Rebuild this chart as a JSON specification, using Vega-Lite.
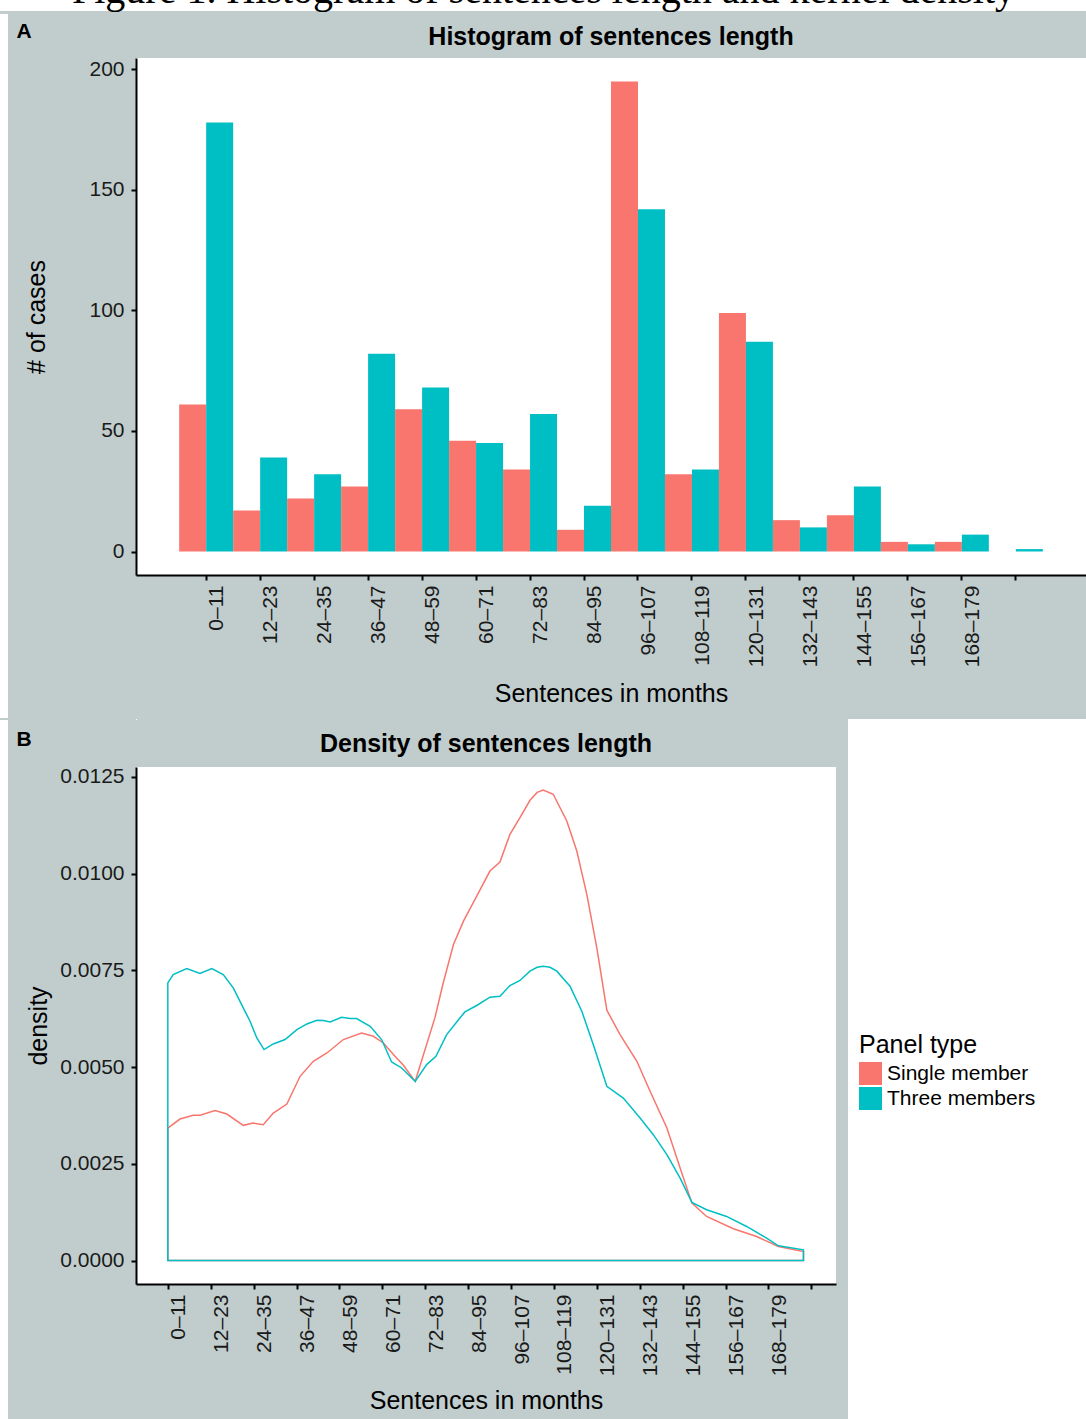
{
  "$schema": "https://vega.github.io/schema/vega-lite/v6.json",
  "background": "#c1cdcd",
  "padding": {"left": 0, "top": -30, "right": 0, "bottom": 0},
  "spacing": 0,
  "datasets": {
    "counts": [
      {"bin": "0–11", "panel": "Single member", "count": 61},
      {"bin": "0–11", "panel": "Three members", "count": 178},
      {"bin": "12–23", "panel": "Single member", "count": 17},
      {"bin": "12–23", "panel": "Three members", "count": 39},
      {"bin": "24–35", "panel": "Single member", "count": 22},
      {"bin": "24–35", "panel": "Three members", "count": 32},
      {"bin": "36–47", "panel": "Single member", "count": 27},
      {"bin": "36–47", "panel": "Three members", "count": 82},
      {"bin": "48–59", "panel": "Single member", "count": 59},
      {"bin": "48–59", "panel": "Three members", "count": 68},
      {"bin": "60–71", "panel": "Single member", "count": 46},
      {"bin": "60–71", "panel": "Three members", "count": 45},
      {"bin": "72–83", "panel": "Single member", "count": 34},
      {"bin": "72–83", "panel": "Three members", "count": 57},
      {"bin": "84–95", "panel": "Single member", "count": 9},
      {"bin": "84–95", "panel": "Three members", "count": 19},
      {"bin": "96–107", "panel": "Single member", "count": 195},
      {"bin": "96–107", "panel": "Three members", "count": 142},
      {"bin": "108–119", "panel": "Single member", "count": 32},
      {"bin": "108–119", "panel": "Three members", "count": 34},
      {"bin": "120–131", "panel": "Single member", "count": 99},
      {"bin": "120–131", "panel": "Three members", "count": 87},
      {"bin": "132–143", "panel": "Single member", "count": 13},
      {"bin": "132–143", "panel": "Three members", "count": 10},
      {"bin": "144–155", "panel": "Single member", "count": 15},
      {"bin": "144–155", "panel": "Three members", "count": 27},
      {"bin": "156–167", "panel": "Single member", "count": 4},
      {"bin": "156–167", "panel": "Three members", "count": 3},
      {"bin": "168–179", "panel": "Single member", "count": 4},
      {"bin": "168–179", "panel": "Three members", "count": 7},
      {"bin": "180–191", "panel": "Single member", "count": 0},
      {"bin": "180–191", "panel": "Three members", "count": 1}
    ],
    "density": [
      {"panel": "Single member", "months": 0, "density": 0.003424},
      {"panel": "Single member", "months": 3.4, "density": 0.003657},
      {"panel": "Single member", "months": 7.1, "density": 0.003753},
      {"panel": "Single member", "months": 9.0, "density": 0.003753},
      {"panel": "Single member", "months": 13.2, "density": 0.003874},
      {"panel": "Single member", "months": 16.5, "density": 0.003786},
      {"panel": "Single member", "months": 21.1, "density": 0.003494},
      {"panel": "Single member", "months": 23.9, "density": 0.003553},
      {"panel": "Single member", "months": 26.7, "density": 0.003512},
      {"panel": "Single member", "months": 29.5, "density": 0.003812},
      {"panel": "Single member", "months": 33.3, "density": 0.004045},
      {"panel": "Single member", "months": 37.0, "density": 0.004762},
      {"panel": "Single member", "months": 40.7, "density": 0.00515},
      {"panel": "Single member", "months": 44.5, "density": 0.005365},
      {"panel": "Single member", "months": 49.1, "density": 0.005712},
      {"panel": "Single member", "months": 54.2, "density": 0.005883},
      {"panel": "Single member", "months": 57.5, "density": 0.005797},
      {"panel": "Single member", "months": 60.3, "density": 0.005624},
      {"panel": "Single member", "months": 63.1, "density": 0.005324},
      {"panel": "Single member", "months": 65.9, "density": 0.005047},
      {"panel": "Single member", "months": 69.2, "density": 0.004632},
      {"panel": "Single member", "months": 74.7, "density": 0.006271},
      {"panel": "Single member", "months": 77.1, "density": 0.0072},
      {"panel": "Single member", "months": 79.9, "density": 0.00817},
      {"panel": "Single member", "months": 82.7, "density": 0.008773},
      {"panel": "Single member", "months": 86.4, "density": 0.00942},
      {"panel": "Single member", "months": 90.1, "density": 0.010067},
      {"panel": "Single member", "months": 92.9, "density": 0.0103},
      {"panel": "Single member", "months": 95.7, "density": 0.011017},
      {"panel": "Single member", "months": 98.5, "density": 0.011447},
      {"panel": "Single member", "months": 101.3, "density": 0.011897},
      {"panel": "Single member", "months": 103.3, "density": 0.0121},
      {"panel": "Single member", "months": 105.0, "density": 0.012164},
      {"panel": "Single member", "months": 107.8, "density": 0.012052},
      {"panel": "Single member", "months": 111.6, "density": 0.011361},
      {"panel": "Single member", "months": 114.4, "density": 0.010585},
      {"panel": "Single member", "months": 117.2, "density": 0.009464},
      {"panel": "Single member", "months": 120.0, "density": 0.008082},
      {"panel": "Single member", "months": 122.8, "density": 0.00647},
      {"panel": "Single member", "months": 126.5, "density": 0.005841},
      {"panel": "Single member", "months": 131.2, "density": 0.00515},
      {"panel": "Single member", "months": 134.9, "density": 0.004374},
      {"panel": "Single member", "months": 139.6, "density": 0.003424},
      {"panel": "Single member", "months": 143.3, "density": 0.002389},
      {"panel": "Single member", "months": 146.6, "density": 0.001483},
      {"panel": "Single member", "months": 150.7, "density": 0.001139},
      {"panel": "Single member", "months": 158.2, "density": 0.00082},
      {"panel": "Single member", "months": 164.7, "density": 0.000621},
      {"panel": "Single member", "months": 170.8, "density": 0.000362},
      {"panel": "Single member", "months": 177.8, "density": 0.000233},
      {"panel": "Three members", "months": 0, "density": 0.007177},
      {"panel": "Three members", "months": 1.5, "density": 0.007394},
      {"panel": "Three members", "months": 5.3, "density": 0.007549},
      {"panel": "Three members", "months": 9.0, "density": 0.00742},
      {"panel": "Three members", "months": 12.3, "density": 0.007549},
      {"panel": "Three members", "months": 15.5, "density": 0.007394},
      {"panel": "Three members", "months": 18.3, "density": 0.007047},
      {"panel": "Three members", "months": 21.1, "density": 0.00653},
      {"panel": "Three members", "months": 23.0, "density": 0.006185},
      {"panel": "Three members", "months": 24.9, "density": 0.005753},
      {"panel": "Three members", "months": 26.9, "density": 0.005453},
      {"panel": "Three members", "months": 29.5, "density": 0.005598},
      {"panel": "Three members", "months": 32.8, "density": 0.005712},
      {"panel": "Three members", "months": 36.1, "density": 0.00597},
      {"panel": "Three members", "months": 38.9, "density": 0.006115},
      {"panel": "Three members", "months": 41.7, "density": 0.006211},
      {"panel": "Three members", "months": 43.5, "density": 0.006203},
      {"panel": "Three members", "months": 45.4, "density": 0.006167},
      {"panel": "Three members", "months": 48.6, "density": 0.006289},
      {"panel": "Three members", "months": 51.0, "density": 0.006255},
      {"panel": "Three members", "months": 52.8, "density": 0.006255},
      {"panel": "Three members", "months": 56.6, "density": 0.006056},
      {"panel": "Three members", "months": 59.8, "density": 0.005712},
      {"panel": "Three members", "months": 62.6, "density": 0.005132},
      {"panel": "Three members", "months": 65.4, "density": 0.004977},
      {"panel": "Three members", "months": 69.2, "density": 0.004632},
      {"panel": "Three members", "months": 72.4, "density": 0.005065},
      {"panel": "Three members", "months": 75.0, "density": 0.00528},
      {"panel": "Three members", "months": 78.0, "density": 0.005841},
      {"panel": "Three members", "months": 81.7, "density": 0.006271},
      {"panel": "Three members", "months": 83.1, "density": 0.006426},
      {"panel": "Three members", "months": 86.4, "density": 0.006592},
      {"panel": "Three members", "months": 90.1, "density": 0.006806},
      {"panel": "Three members", "months": 92.9, "density": 0.006832},
      {"panel": "Three members", "months": 95.7, "density": 0.007109},
      {"panel": "Three members", "months": 98.5, "density": 0.007239},
      {"panel": "Three members", "months": 101.3, "density": 0.007479},
      {"panel": "Three members", "months": 103.3, "density": 0.00758},
      {"panel": "Three members", "months": 105.0, "density": 0.007609},
      {"panel": "Three members", "months": 106.9, "density": 0.00758},
      {"panel": "Three members", "months": 108.8, "density": 0.007479},
      {"panel": "Three members", "months": 112.5, "density": 0.007091},
      {"panel": "Three members", "months": 115.8, "density": 0.006444},
      {"panel": "Three members", "months": 119.0, "density": 0.005582},
      {"panel": "Three members", "months": 122.8, "density": 0.004503},
      {"panel": "Three members", "months": 127.4, "density": 0.0042},
      {"panel": "Three members", "months": 132.1, "density": 0.003683},
      {"panel": "Three members", "months": 135.8, "density": 0.003253},
      {"panel": "Three members", "months": 139.6, "density": 0.002736},
      {"panel": "Three members", "months": 143.3, "density": 0.00213},
      {"panel": "Three members", "months": 146.6, "density": 0.001501},
      {"panel": "Three members", "months": 150.7, "density": 0.001312},
      {"panel": "Three members", "months": 156.3, "density": 0.001139},
      {"panel": "Three members", "months": 161.9, "density": 0.00088},
      {"panel": "Three members", "months": 167.5, "density": 0.000577},
      {"panel": "Three members", "months": 170.8, "density": 0.00038},
      {"panel": "Three members", "months": 177.8, "density": 0.000277}
    ]
  },
  "config": {
    "font": "Liberation Sans",
    "view": {"fill": "white", "stroke": null},
    "style": {"view": {"fill": "white", "stroke": null}},
    "axis": {
      "grid": false,
      "domainColor": "black",
      "domainWidth": 2,
      "tickColor": "black",
      "tickWidth": 2,
      "tickSize": 5,
      "labelFont": "Liberation Sans",
      "labelFontSize": 21,
      "labelColor": "#1a1a1a",
      "labelPadding": 5,
      "labelOverlap": false,
      "labelFlush": false,
      "titleFont": "Liberation Sans",
      "titleFontSize": 25,
      "titleFontWeight": "normal",
      "titleColor": "black"
    },
    "axisY": {"labelPadding": 7},
    "title": {"font": "Liberation Sans", "fontSize": 25, "fontWeight": "bold", "color": "black", "anchor": "middle", "frame": "group"}
  },
  "resolve": {
    "scale": {"color": "independent", "stroke": "independent", "fill": "independent"},
    "legend": {"color": "independent", "stroke": "independent", "fill": "independent"}
  },
  "vconcat": [
    {
      "data": {"name": "density"},
      "width": 950,
      "height": 14,
      "mark": {"type": "point", "opacity": 0},
      "encoding": {
        "y": {
          "field": "density", "type": "quantitative",
          "axis": {
            "orient": "left", "domain": false, "ticks": false, "labels": false, "grid": false,
            "minExtent": 0, "maxExtent": 0, "zindex": 1,
            "title": "Figure 1. Histogram of sentences length and kernel density",
            "titleAngle": 0, "titleAlign": "center", "titleBaseline": "alphabetic",
            "titleX": 407, "titleY": 5,
            "titleFont": "Liberation Serif", "titleFontSize": 40, "titleFontWeight": "normal", "titleColor": "black"
          }
        },
        "fill": {
          "field": "density", "type": "quantitative",
          "scale": {"range": ["white", "white"]},
          "legend": {
            "type": "gradient", "direction": "horizontal", "orient": "none",
            "legendX": -136, "legendY": 0, "padding": 0, "title": null, "values": [],
            "gradientLength": 136, "gradientThickness": 14, "gradientStrokeWidth": 0,
            "labelOpacity": 0
          }
        }
      }
    },
    {
      "data": {"name": "counts"},
      "width": 950,
      "height": 517,
      "title": {"text": "Histogram of sentences length", "offset": -36},
      "resolve": {"axis": {"y": "independent"}},
      "layer": [
        {
          "mark": {"type": "bar"},
          "encoding": {
            "x": {
              "field": "bin", "type": "ordinal", "sort": null,
              "scale": {"paddingInner": 0, "paddingOuter": 0.8},
              "axis": {
                "title": ["Sentences in months", ""], "titleLineHeight": 12, "titlePadding": 15,
                "labelAngle": -90, "labelAlign": "right", "labelBaseline": "top",
                "labelExpr": "datum.value == '180–191' ? '' : datum.value"
              }
            },
            "xOffset": {"field": "panel", "type": "nominal", "sort": ["Single member", "Three members"]},
            "y": {
              "field": "count", "type": "quantitative",
              "scale": {"domain": [-9.75, 204.75], "nice": false},
              "axis": {"title": "# of cases", "values": [0, 50, 100, 150, 200], "titlePadding": 39}
            },
            "color": {
              "field": "panel", "type": "nominal",
              "scale": {"domain": ["Single member", "Three members"], "range": ["#f8766d", "#00bfc4"]},
              "legend": null
            }
          }
        },
        {
          "mark": {"type": "point", "opacity": 0},
          "encoding": {
            "y": {
              "field": "count", "type": "quantitative",
              "axis": {
                "orient": "right", "domain": false, "ticks": false, "labels": false, "grid": false,
                "minExtent": 0, "maxExtent": 0,
                "title": ["", "A"], "titleAngle": 0, "titleAlign": "left", "titleBaseline": "top",
                "titleX": -1070, "titleY": -44, "titleLineHeight": 6.5,
                "titleFontSize": 21, "titleFontWeight": "bold"
              }
            },
            "fill": {
              "field": "count", "type": "quantitative",
              "scale": {"range": ["white", "white"]},
              "legend": {
                "type": "gradient", "direction": "vertical", "orient": "none",
                "legendX": -136, "legendY": -44, "padding": 0, "title": null, "values": [],
                "gradientLength": 704, "gradientThickness": 8, "gradientStrokeWidth": 0,
                "labelOpacity": 0
              }
            }
          }
        }
      ]
    },
    {
      "spacing": 12,
      "resolve": {
        "scale": {"color": "independent", "stroke": "independent", "fill": "independent"},
        "legend": {"color": "independent", "stroke": "independent", "fill": "independent"}
      },
      "hconcat": [
        {
          "spacing": 0,
          "resolve": {
            "scale": {"color": "independent", "stroke": "independent", "fill": "independent"},
            "legend": {"color": "independent", "stroke": "independent", "fill": "independent"}
          },
          "vconcat": [
            {
              "data": {"values": []},
              "width": 1,
              "height": 1,
              "mark": "point"
            },
            {
              "data": {"name": "density"},
              "width": 700,
              "height": 517,
              "title": {"text": "Density of sentences length", "offset": -37},
              "resolve": {"axis": {"y": "independent"}},
              "layer": [
                {
                  "mark": {"type": "area", "fillOpacity": 0, "strokeWidth": 1.5},
                  "encoding": {
                    "x": {
                      "field": "months", "type": "quantitative",
                      "scale": {"domain": [-8.9, 186.9], "nice": false, "zero": false},
                      "axis": {
                        "title": "Sentences in months", "titlePadding": 13,
                        "values": [0, 12, 24, 36, 48, 60, 72, 84, 96, 108, 120, 132, 144, 156, 168, 180],
                        "labelAngle": -90, "labelAlign": "right", "labelBaseline": "top",
                        "labelExpr": "datum.value >= 180 ? '' : datum.value + '–' + (datum.value + 11)"
                      }
                    },
                    "y": {
                      "field": "density", "type": "quantitative", "stack": null,
                      "scale": {"domain": [-0.000607, 0.012757], "nice": false},
                      "axis": {"title": "density", "values": [0, 0.0025, 0.005, 0.0075, 0.01, 0.0125], "format": ".4f", "titlePadding": 8}
                    },
                    "stroke": {
                      "field": "panel", "type": "nominal",
                      "scale": {"domain": ["Single member", "Three members"], "range": ["#f8766d", "#00bfc4"]},
                      "legend": null
                    }
                  }
                },
                {
                  "mark": {"type": "point", "opacity": 0},
                  "encoding": {
                    "y": {
                      "field": "density", "type": "quantitative",
                      "axis": {
                        "orient": "right", "domain": false, "ticks": false, "labels": false, "grid": false,
                        "minExtent": 0, "maxExtent": 0,
                        "title": ["", "B"], "titleAngle": 0, "titleAlign": "left", "titleBaseline": "top",
                        "titleX": -820, "titleY": -47, "titleLineHeight": 8.5,
                        "titleFontSize": 21, "titleFontWeight": "bold"
                      }
                    },
                    "fill": {
                      "field": "density", "type": "quantitative",
                      "scale": {"range": ["white", "white"]},
                      "legend": {
                        "type": "gradient", "direction": "vertical", "orient": "none",
                        "legendX": -136, "legendY": -47, "padding": 0, "title": null, "values": [],
                        "gradientLength": 700, "gradientThickness": 8, "gradientStrokeWidth": 0,
                        "labelOpacity": 0
                      }
                    }
                  }
                }
              ]
            }
          ]
        },
        {
          "data": {"name": "counts"},
          "width": 238,
          "height": 700,
          "mark": {"type": "square", "opacity": 0},
          "encoding": {
            "color": {
              "field": "panel", "type": "nominal",
              "scale": {"domain": ["Single member", "Three members"], "range": ["#f8766d", "#00bfc4"]},
              "legend": {
                "orient": "none", "legendX": 11, "legendY": 314, "padding": 0,
                "title": "Panel type", "titleFont": "Liberation Sans", "titleFontSize": 25, "titleFontWeight": "normal",
                "titleColor": "black", "titlePadding": 4,
                "labelFont": "Liberation Sans", "labelFontSize": 21, "labelColor": "black", "labelOffset": 5,
                "symbolType": "square", "symbolSize": 529, "symbolOpacity": 1, "symbolStrokeWidth": 0, "rowPadding": 2
              }
            }
          }
        }
      ]
    }
  ]
}
